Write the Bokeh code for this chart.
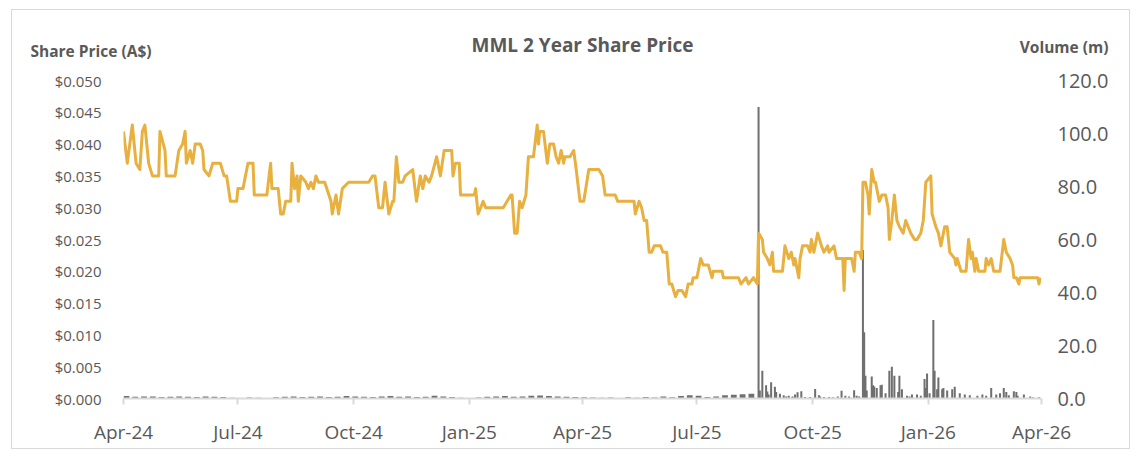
import pandas as pd
from bokeh.plotting import figure
from bokeh.models import (Range1d, LinearAxis, FixedTicker, NumeralTickFormatter,
                          DatetimeTickFormatter, Label)
from bokeh.embed import file_html
from bokeh.resources import INLINE

# ---------------- data ----------------
title_text = "MML 2 Year Share Price"
left_label = "Share Price (A$)"
right_label = "Volume (m)"

tick_dates = ["2024-04-01", "2024-07-01", "2024-10-01", "2025-01-01", "2025-04-01",
              "2025-07-01", "2025-10-01", "2026-01-01", "2026-04-01"]

price_dates = [
    "2024-04-01", "2024-04-04", "2024-04-08", "2024-04-11", "2024-04-14", "2024-04-16", "2024-04-18",
    "2024-04-21", "2024-04-24", "2024-04-29", "2024-04-30",
    "2024-05-04", "2024-05-05", "2024-05-12", "2024-05-15", "2024-05-18", "2024-05-20", "2024-05-21",
    "2024-05-24", "2024-05-26", "2024-05-28",
    "2024-06-01", "2024-06-03", "2024-06-04", "2024-06-08", "2024-06-11", "2024-06-17", "2024-06-20",
    "2024-06-22", "2024-06-25", "2024-06-30",
    "2024-07-01", "2024-07-05", "2024-07-07", "2024-07-09", "2024-07-13", "2024-07-14", "2024-07-24",
    "2024-07-27", "2024-07-28",
    "2024-08-02", "2024-08-04", "2024-08-06", "2024-08-08", "2024-08-12", "2024-08-13", "2024-08-15",
    "2024-08-17", "2024-08-18", "2024-08-20", "2024-08-24", "2024-08-26", "2024-08-28", "2024-08-30",
    "2024-09-01", "2024-09-03", "2024-09-08", "2024-09-13", "2024-09-14", "2024-09-17", "2024-09-19",
    "2024-09-22", "2024-09-27",
    "2024-10-13", "2024-10-16", "2024-10-18", "2024-10-21", "2024-10-24", "2024-10-26", "2024-10-29",
    "2024-11-01", "2024-11-02", "2024-11-04", "2024-11-06", "2024-11-09", "2024-11-11", "2024-11-17",
    "2024-11-20", "2024-11-23", "2024-11-25", "2024-11-27", "2024-11-30",
    "2024-12-02", "2024-12-06", "2024-12-09", "2024-12-12", "2024-12-18", "2024-12-19", "2024-12-21",
    "2024-12-24", "2024-12-25",
    "2025-01-05", "2025-01-06", "2025-01-08", "2025-01-12", "2025-01-14", "2025-01-28",
    "2025-02-03", "2025-02-04", "2025-02-06", "2025-02-08", "2025-02-10", "2025-02-12", "2025-02-15",
    "2025-02-17", "2025-02-21", "2025-02-24", "2025-02-25", "2025-02-26",
    "2025-03-01", "2025-03-04", "2025-03-06", "2025-03-09", "2025-03-11", "2025-03-13", "2025-03-15",
    "2025-03-17", "2025-03-18", "2025-03-22", "2025-03-25", "2025-03-27", "2025-03-30",
    "2025-04-02", "2025-04-06", "2025-04-14", "2025-04-17", "2025-04-19", "2025-04-27", "2025-04-29",
    "2025-05-12", "2025-05-13", "2025-05-16", "2025-05-18", "2025-05-20", "2025-05-22", "2025-05-24",
    "2025-05-26", "2025-05-28",
    "2025-06-02", "2025-06-04", "2025-06-07", "2025-06-09", "2025-06-11", "2025-06-14", "2025-06-16",
    "2025-06-19", "2025-06-22", "2025-06-24", "2025-06-27", "2025-06-28",
    "2025-07-01", "2025-07-04", "2025-07-06", "2025-07-10", "2025-07-13", "2025-07-14", "2025-07-21",
    "2025-07-22",
    "2025-08-03", "2025-08-05", "2025-08-09", "2025-08-11", "2025-08-15", "2025-08-18", "2025-08-19",
    "2025-08-22", "2025-08-23", "2025-08-26", "2025-08-28", "2025-08-30", "2025-08-31",
    "2025-09-07", "2025-09-09", "2025-09-12", "2025-09-14", "2025-09-16", "2025-09-17", "2025-09-20",
    "2025-09-21", "2025-09-23", "2025-09-27", "2025-09-29", "2025-09-30",
    "2025-10-02", "2025-10-05", "2025-10-08", "2025-10-10", "2025-10-13", "2025-10-14", "2025-10-18",
    "2025-10-20", "2025-10-25", "2025-10-26", "2025-10-27",
    "2025-11-01", "2025-11-03", "2025-11-04", "2025-11-07", "2025-11-09", "2025-11-10", "2025-11-12",
    "2025-11-14", "2025-11-15", "2025-11-17", "2025-11-19", "2025-11-20", "2025-11-23", "2025-11-25",
    "2025-11-28", "2025-11-30",
    "2025-12-01", "2025-12-03", "2025-12-05", "2025-12-07", "2025-12-09", "2025-12-12", "2025-12-14",
    "2025-12-16", "2025-12-18", "2025-12-21", "2025-12-23", "2025-12-26", "2025-12-28", "2025-12-30",
    "2026-01-03", "2026-01-04", "2026-01-07", "2026-01-09", "2026-01-11", "2026-01-14", "2026-01-16",
    "2026-01-18", "2026-01-22", "2026-01-23", "2026-01-24", "2026-01-27", "2026-01-31",
    "2026-02-02", "2026-02-04", "2026-02-05", "2026-02-07", "2026-02-08", "2026-02-10", "2026-02-15",
    "2026-02-16", "2026-02-18", "2026-02-20", "2026-02-22", "2026-02-27",
    "2026-03-02", "2026-03-04", "2026-03-07", "2026-03-09", "2026-03-10", "2026-03-12", "2026-03-14",
    "2026-03-15", "2026-03-29", "2026-03-30", "2026-03-31",
]

price = [
    0.042, 0.037, 0.043, 0.037, 0.036, 0.042, 0.043,
    0.037, 0.035, 0.035, 0.042,
    0.039, 0.035, 0.035, 0.039, 0.040, 0.042, 0.037,
    0.039, 0.037, 0.040,
    0.040, 0.039, 0.036, 0.035, 0.037, 0.037, 0.035,
    0.035, 0.031, 0.031,
    0.033, 0.033, 0.035, 0.037, 0.037, 0.032, 0.032,
    0.037, 0.033,
    0.033, 0.029, 0.029, 0.031, 0.031, 0.037, 0.033,
    0.035, 0.031, 0.035, 0.034, 0.033, 0.034, 0.033,
    0.035, 0.034, 0.034, 0.031, 0.029, 0.032, 0.029,
    0.033, 0.034,
    0.034, 0.035, 0.035, 0.030, 0.030, 0.034, 0.029,
    0.031, 0.031, 0.038, 0.034, 0.034, 0.035, 0.036,
    0.031, 0.035, 0.033, 0.035, 0.034,
    0.035, 0.038, 0.035, 0.039, 0.039, 0.035, 0.037,
    0.037, 0.032,
    0.032, 0.033, 0.029, 0.031, 0.030, 0.030,
    0.032, 0.032, 0.026, 0.026, 0.031, 0.030, 0.032,
    0.038, 0.038, 0.043, 0.040, 0.042,
    0.042, 0.037, 0.040, 0.040, 0.038, 0.037, 0.039,
    0.037, 0.038, 0.038, 0.039, 0.036, 0.031,
    0.031, 0.036, 0.036, 0.035, 0.032, 0.032, 0.031,
    0.031, 0.029, 0.031, 0.030, 0.028, 0.028, 0.023,
    0.023, 0.024,
    0.024, 0.023, 0.023, 0.018, 0.018, 0.016, 0.017,
    0.017, 0.016, 0.018, 0.018, 0.019,
    0.019, 0.022, 0.021, 0.021, 0.019, 0.020, 0.020,
    0.019,
    0.019, 0.018, 0.019, 0.018, 0.019, 0.018, 0.026,
    0.025, 0.023, 0.022, 0.021, 0.023, 0.020,
    0.020, 0.024, 0.022, 0.023, 0.021, 0.022, 0.019,
    0.022, 0.024, 0.024, 0.023, 0.025,
    0.023, 0.026, 0.024, 0.023, 0.024, 0.023, 0.024,
    0.022, 0.022, 0.017, 0.022,
    0.022, 0.020, 0.023, 0.023, 0.022, 0.034, 0.034,
    0.032, 0.029, 0.036, 0.034, 0.034, 0.031, 0.032,
    0.032, 0.030,
    0.025, 0.028, 0.032, 0.028, 0.027, 0.026, 0.028,
    0.027, 0.026, 0.025, 0.025, 0.026, 0.028, 0.034,
    0.035, 0.029, 0.027, 0.026, 0.024, 0.027, 0.027,
    0.023, 0.022, 0.021, 0.022, 0.020, 0.020,
    0.025, 0.022, 0.023, 0.020, 0.022, 0.020, 0.020,
    0.022, 0.021, 0.022, 0.020, 0.020,
    0.025, 0.023, 0.022, 0.021, 0.019, 0.019, 0.018,
    0.019, 0.019, 0.018, 0.019,
]

# weekly low-volume trading (m) before the August 2025 spike, weeks starting Mondays
low_vol_first_week = "2024-04-01"
low_vol = [
    0.9, 0.7, 0.8, 0.8, 0.6, 0.7, 0.8, 0.7, 0.6, 0.8, 0.7, 0.6,
    0.3, 0.0, 0.4, 0.3, 0.0, 0.5,
    0.7, 0.8, 0.6, 0.7, 0.8, 0.6, 0.7, 0.9, 0.8, 0.7, 0.6, 0.8, 0.9, 0.7, 0.8, 0.6, 0.7, 1.0, 0.8, 0.6,
    0.3, 0.0, 0.4,
    0.7, 0.8, 0.9, 0.7, 0.8, 1.0, 1.1, 0.9, 0.8, 0.7, 0.6, 0.5, 0.4, 0.3,
    0.4, 0.0, 0.5, 0.3, 0.6, 0.4, 0.8, 0.5, 0.9, 1.2, 1.0, 0.6, 0.8, 1.2, 1.4, 1.6, 1.8,
]

vol_dates = [
    "2025-08-19", "2025-08-20", "2025-08-22", "2025-08-25", "2025-08-26", "2025-08-27", "2025-08-29",
    "2025-09-01", "2025-09-02", "2025-09-05", "2025-09-08", "2025-09-10", "2025-09-12", "2025-09-15",
    "2025-09-17", "2025-09-19", "2025-09-22", "2025-09-25", "2025-09-29",
    "2025-10-03", "2025-10-06", "2025-10-07", "2025-10-10", "2025-10-14", "2025-10-17", "2025-10-21",
    "2025-10-24", "2025-10-27", "2025-10-30",
    "2025-11-03", "2025-11-05", "2025-11-07", "2025-11-10", "2025-11-11", "2025-11-12", "2025-11-13",
    "2025-11-17", "2025-11-18", "2025-11-19", "2025-11-21", "2025-11-24", "2025-11-25", "2025-11-28",
    "2025-12-01", "2025-12-03", "2025-12-05", "2025-12-08", "2025-12-09", "2025-12-11", "2025-12-15",
    "2025-12-17", "2025-12-19", "2025-12-23", "2025-12-26", "2025-12-29", "2025-12-30", "2025-12-31",
    "2026-01-02", "2026-01-05", "2026-01-06", "2026-01-08", "2026-01-09", "2026-01-12", "2026-01-13",
    "2026-01-16", "2026-01-20", "2026-01-22", "2026-01-26", "2026-01-30",
    "2026-02-03", "2026-02-09", "2026-02-13", "2026-02-16", "2026-02-20", "2026-02-24", "2026-02-27",
    "2026-03-02", "2026-03-04", "2026-03-06", "2026-03-10", "2026-03-12", "2026-03-13", "2026-03-18",
    "2026-03-23", "2026-03-25", "2026-03-30",
]
vol = [
    110.0, 3.0, 10.5, 5.0, 2.6, 1.5, 6.1,
    4.4, 2.5, 1.8, 1.2, 0.8, 1.0, 0.8,
    1.5, 2.4, 2.7, 0.6, 0.6,
    3.6, 1.2, 0.8, 0.6, 0.6, 0.5, 0.8,
    2.9, 1.0, 0.8,
    3.1, 1.0, 0.8, 56.0, 25.0, 8.6, 3.0,
    8.3, 5.0, 4.5, 4.0, 5.0, 5.2, 2.0,
    10.5, 12.0, 8.6, 2.5, 8.6, 3.5, 1.0,
    0.8, 1.5, 1.5, 1.0, 7.4, 4.0, 9.4,
    2.0, 29.6, 10.5, 3.5, 7.9, 3.5, 4.0,
    3.0, 3.5, 4.4, 2.0, 1.5,
    1.2, 1.0, 1.5, 1.0, 4.0, 1.5, 2.0,
    4.0, 2.5, 1.2, 2.7, 2.5, 1.0, 1.5,
    0.8, 0.5, 0.5,
]

assert len(price_dates) == len(price)
assert len(vol_dates) == len(vol)

# ---------------- styling ----------------
FONT = "Open Sans"
TEXT = "#595959"
GOLD = "#E8B03E"
BAR = "#6f6f6f"
DAY = pd.Timedelta(days=1)

px = pd.to_datetime(price_dates)
vx = pd.to_datetime(vol_dates)
wk = pd.date_range(low_vol_first_week, periods=len(low_vol), freq="7D")
ticks = pd.to_datetime(tick_dates)
tick_ms = [int(t.value // 10**6) for t in ticks]

p = figure(width=1119, height=440, x_axis_type="datetime",
           x_range=Range1d(ticks[0], ticks[-1]), y_range=Range1d(0, 0.05),
           output_backend="svg", toolbar_location=None,
           min_border_left=111, min_border_right=90, min_border_top=68, min_border_bottom=52)
p.title = None
p.margin = (9, 0, 0, 11)
p.styles = {"border": "1px solid #d9d9d9"}
p.outline_line_color = None
p.xgrid.visible = False
p.ygrid.visible = False
p.background_fill_color = "white"
p.border_fill_color = "white"

p.extra_y_ranges = {"vol": Range1d(0, 120)}

# volume bars
p.quad(left=wk, right=wk + 4.6 * DAY, bottom=0, top=low_vol, y_range_name="vol",
       fill_color=BAR, line_color=None)
p.vbar(x=vx, top=vol, width=1.6 * DAY, y_range_name="vol", fill_color=BAR, line_color=None)

# price line
p.line(px, price, line_color=GOLD, line_width=3, line_join="round")

# axes
p.xaxis.ticker = FixedTicker(ticks=tick_ms)
p.xaxis.formatter = DatetimeTickFormatter(days="%b-%y", months="%b-%y", years="%b-%y")
p.xaxis.axis_line_color = "#d9d9d9"
p.xaxis.axis_line_width = 2
p.xaxis.major_tick_line_color = "#d9d9d9"
p.xaxis.major_tick_line_width = 2
p.xaxis.major_tick_out = 6
p.xaxis.major_tick_in = 0
p.xaxis.minor_tick_line_color = None
p.xaxis.major_label_text_font = FONT
p.xaxis.major_label_text_font_size = "19px"
p.xaxis.major_label_text_color = TEXT
p.xaxis.major_label_standoff = 14

p.yaxis.ticker = FixedTicker(ticks=[i * 0.005 for i in range(11)])
p.yaxis.formatter = NumeralTickFormatter(format="$0.000")
p.yaxis.axis_line_color = None
p.yaxis.major_tick_line_color = None
p.yaxis.minor_tick_line_color = None
p.yaxis.major_label_text_font = FONT
p.yaxis.major_label_text_font_size = "15px"
p.yaxis.major_label_text_color = TEXT
p.yaxis.major_label_standoff = 16

ra = LinearAxis(y_range_name="vol", ticker=FixedTicker(ticks=[0, 20, 40, 60, 80, 100, 120]),
                formatter=NumeralTickFormatter(format="0.0"))
ra.axis_line_color = None
ra.major_tick_line_color = None
ra.minor_tick_line_color = None
ra.major_label_text_font = FONT
ra.major_label_text_font_size = "20px"
ra.major_label_text_color = TEXT
ra.major_label_standoff = 10
p.add_layout(ra, "right")

# header texts placed in the panel above the frame (screen offsets relative to each row)
p.add_layout(Label(x=-93, y=30, x_units="screen", y_units="screen", text=left_label,
                   text_font=FONT, text_font_size="15.5px", text_font_style="bold",
                   text_color=TEXT, text_baseline="middle", text_align="left"), "above")
p.add_layout(Label(x=985, y=12, x_units="screen", y_units="screen", text=right_label,
                   text_font=FONT, text_font_size="15.5px", text_font_style="bold",
                   text_color=TEXT, text_baseline="middle", text_align="right"), "above")
p.add_layout(Label(x=459, y=-8, x_units="screen", y_units="screen", text=title_text,
                   text_font=FONT, text_font_size="19px", text_font_style="bold",
                   text_color=TEXT, text_baseline="middle", text_align="center"), "above")

open("out.html", "w").write(file_html(p, INLINE))
